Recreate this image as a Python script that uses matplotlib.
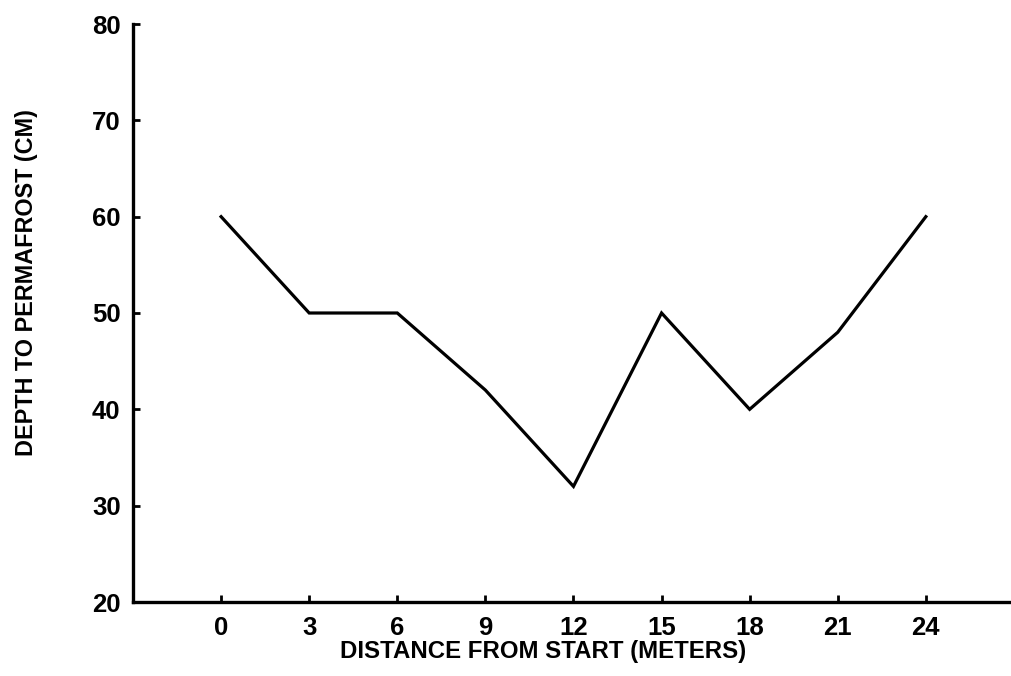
import matplotlib
matplotlib.use("Agg")
import matplotlib.pyplot as plt

distance_m = [0, 3, 6, 9, 12, 15, 18, 21, 24]
depth_cm = [60, 50, 50, 42, 32, 50, 40, 48, 60]
x_ticks = [0, 3, 6, 9, 12, 15, 18, 21, 24]
y_ticks = [20, 30, 40, 50, 60, 70, 80]

plt.rcParams['font.family'] = ['Liberation Sans', 'DejaVu Sans']

fig = plt.figure(figsize=(10.11, 6.76), dpi=100)
ax_top = 24
ax = fig.add_axes([133/1011, (676-602)/676, (1011-133)/1011, (602-ax_top)/676])

ax.plot(distance_m, depth_cm, color='black', linewidth=2.3, solid_joinstyle='miter')

ax.set_xlim(-3, 26.9)
ax.set_ylim(20, 80)
ax.set_xticks(x_ticks)
ax.set_yticks(y_ticks)
ax.set_xticklabels([str(v) for v in x_ticks], fontsize=18.5, fontweight='bold')
ax.set_yticklabels([str(v) for v in y_ticks], fontsize=18.5, fontweight='bold')
ax.tick_params(axis='both', direction='in', length=5, width=2, color='black')
ax.tick_params(axis='x', pad=10)
ax.tick_params(axis='y', pad=9)

for side in ['top', 'right']:
    ax.spines[side].set_visible(False)
for side in ['left', 'bottom']:
    ax.spines[side].set_linewidth(2.4)

ax.set_xlabel('DISTANCE FROM START (METERS)', fontsize=17.3, fontweight='bold')
ax.set_ylabel('DEPTH TO PERMAFROST (CM)', fontsize=16.8, fontweight='bold')
ax.xaxis.set_label_coords((543-133)/(1011-133), (602-640)/(602-ax_top))
ax.yaxis.set_label_coords((38-133)/(1011-133), (602-283)/(602-ax_top))

fig.savefig('out.png', dpi=100, facecolor='white')
